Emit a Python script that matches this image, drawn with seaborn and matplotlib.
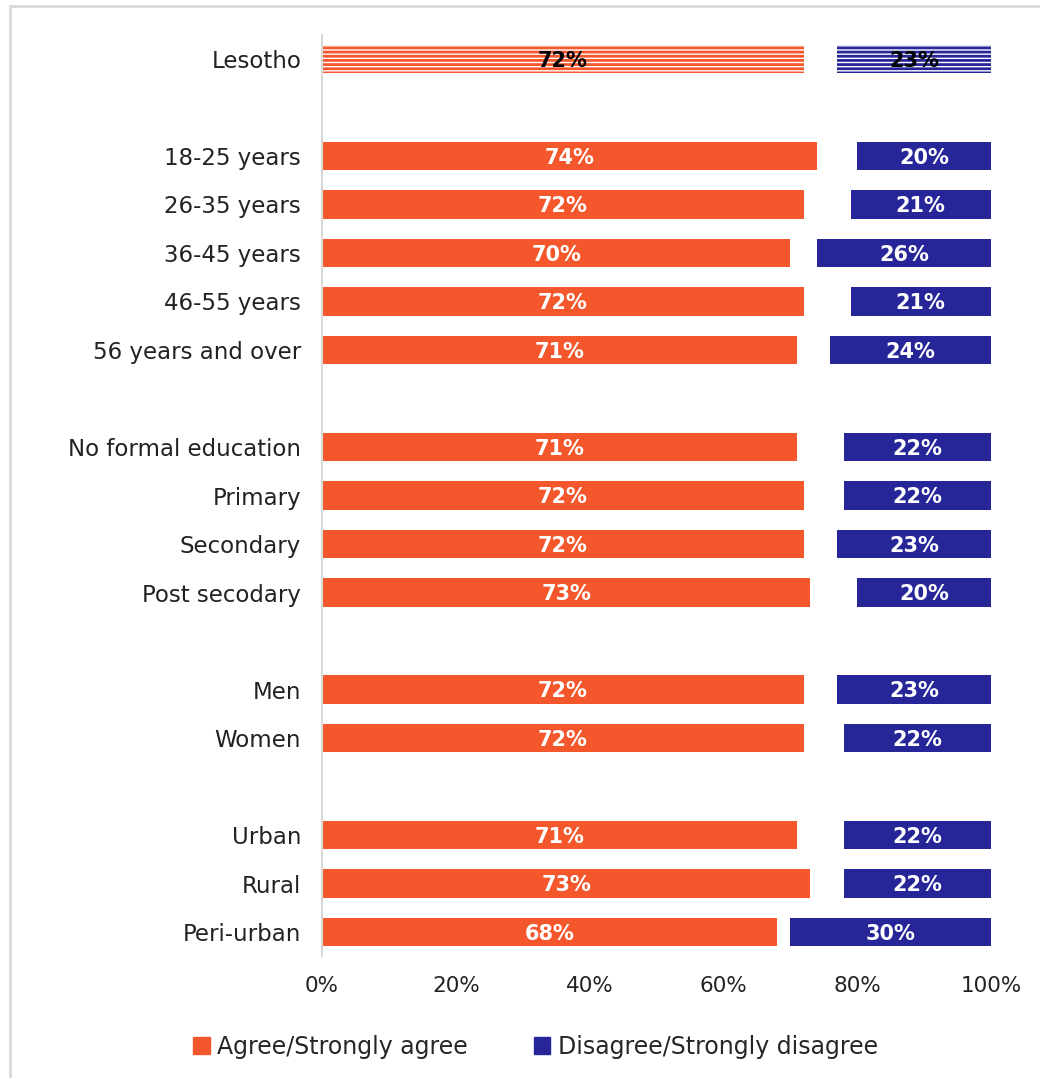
import numpy as np
import pandas as pd
import matplotlib
matplotlib.use("Agg")
import matplotlib.pyplot as plt
from matplotlib.patches import Rectangle
import seaborn as sns

# Survey groups and shares (%)
groups = ["Lesotho",
          "18-25 years", "26-35 years", "36-45 years", "46-55 years", "56 years and over",
          "No formal education", "Primary", "Secondary", "Post secodary",
          "Men", "Women",
          "Urban", "Rural", "Peri-urban"]
agree = [72, 74, 72, 70, 72, 71, 71, 72, 72, 73, 72, 72, 71, 73, 68]
disagree = [23, 20, 21, 26, 21, 24, 22, 22, 23, 20, 23, 22, 22, 22, 30]
x_ticks = [0, 20, 40, 60, 80, 100]
legend_labels = ["Agree/Strongly agree", "Disagree/Strongly disagree"]

ORANGE = "#F4572B"
BLUE = "#262699"
FONT = "DejaVu Sans"

# Category order with blank spacer rows between the breakdowns
order = ["Lesotho", " ",
         "18-25 years", "26-35 years", "36-45 years", "46-55 years", "56 years and over", "  ",
         "No formal education", "Primary", "Secondary", "Post secodary", "   ",
         "Men", "Women", "    ",
         "Urban", "Rural", "Peri-urban"]

df = pd.DataFrame({"group": groups, "agree": agree, "disagree": disagree})

sns.set_style("white")
plt.rcParams["font.family"] = [FONT]
plt.rcParams["hatch.linewidth"] = 2.0

fig = plt.figure(figsize=(10.4, 10.78), dpi=100)
ax = fig.add_axes([0.3096, 0.1129, 0.6433, 0.8549])

bar_h = 0.58

# Agree bars grow from 0
n0 = len(ax.patches)
sns.barplot(data=df, y="group", x="agree", order=order, orient="h",
            color=ORANGE, width=bar_h, saturation=1, errorbar=None, ax=ax,
            linewidth=0)
agree_patches = ax.patches[n0:]

# Disagree bars are anchored at the 100% end
n1 = len(ax.patches)
sns.barplot(data=df, y="group", x="disagree", order=order, orient="h",
            color=BLUE, width=bar_h, saturation=1, errorbar=None, ax=ax,
            linewidth=0)
disagree_patches = ax.patches[n1:]
for p in disagree_patches:
    w = p.get_width()
    if np.isfinite(w):
        p.set_x(100 - w)

# National total drawn as horizontal line pattern
for patches, col in ((agree_patches, ORANGE), (disagree_patches, BLUE)):
    p = patches[0]
    p.set_facecolor("white")
    p.set_edgecolor(col)
    p.set_hatch("----")
    p.set_linewidth(0)

# Value labels
for patches, vals in ((agree_patches, agree), (disagree_patches, disagree)):
    for i, (p, v) in enumerate(zip(patches, vals)):
        cx = p.get_x() + p.get_width() / 2
        cy = p.get_y() + p.get_height() / 2
        ax.text(cx, cy + 0.04, f"{v}%", ha="center", va="center",
                fontsize=15, fontweight="bold",
                color="black" if i == 0 else "white")

ax.set_xlim(0, 100)
ax.set_ylim(len(order) - 0.5, -0.5)
ax.set_xticks(x_ticks)
ax.set_xticklabels([f"{t}%" for t in x_ticks], fontsize=15.5, color="#222222")
ax.tick_params(axis="y", labelsize=16.5, colors="#222222", length=0, pad=15)
ax.tick_params(axis="x", length=0, pad=14)
ax.set_xlabel("")
ax.set_ylabel("")
for s in ("top", "right", "bottom"):
    ax.spines[s].set_visible(False)
ax.spines["left"].set_color("#D9D9D9")
ax.spines["left"].set_linewidth(1.5)

# Legend
handles = [Rectangle((0, 0), 1, 1, color=ORANGE), Rectangle((0, 0), 1, 1, color=BLUE)]
fig.legend(handles, legend_labels, loc="center", bbox_to_anchor=(0.515, 0.029),
           ncol=2, frameon=False, fontsize=17, handlelength=0.7,
           handleheight=0.7, handletextpad=0.3, columnspacing=2.8)

# Light frame around the chart area
fig.add_artist(Rectangle((10 / 1040, -0.01), 1.1, 1 - 6 / 1078 + 0.01,
                         transform=fig.transFigure, fill=False,
                         edgecolor="#D9D9D9", linewidth=2))

fig.savefig("out.png", dpi=100)
